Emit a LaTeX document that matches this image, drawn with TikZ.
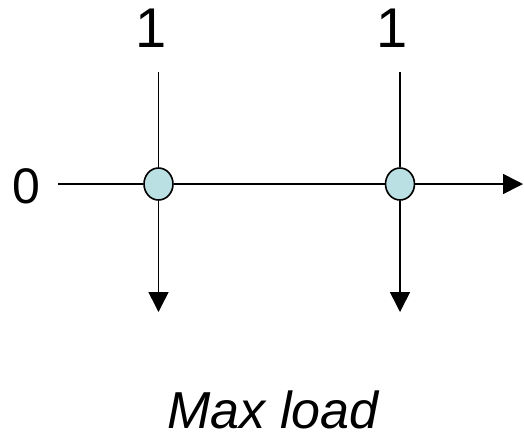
\documentclass[tikz,border=0pt]{standalone}
\usepackage{fontspec}
\setmainfont{Liberation Sans}
\usetikzlibrary{arrows.meta, shapes.geometric}
\definecolor{jointfill}{HTML}{BBE0E3}

\begin{document}
\begin{tikzpicture}[x=1pt, y=-1pt, line width=1.6pt,
    joint/.style={ellipse, draw, fill=jointfill, minimum width=29pt,
                  minimum height=32pt, inner sep=0pt},
    lab/.style={font=\fontsize{50}{60}\selectfont, inner sep=0pt, anchor=base},
    tip/.style={-{Triangle[width=20pt, length=20pt]}}]
  \useasboundingbox (0,0) rectangle (524,432);
  \node[lab] (zero) at (26,203) {0};
  \coordinate (src) at (58,184);
  \coordinate (out) at (523,184);
  \foreach \n/\x in {a/158.5, b/400}{
    \node[joint] (j\n) at (\x,184) {};
    \node[lab, font=\fontsize{56}{60}\selectfont] (one\n) at (\x-7.5,47) {1};
    \coordinate (top\n) at (\x,72);
    \coordinate (bot\n) at (\x,312);
  }
  \draw (src) -- (ja);
  \draw (ja) -- (jb);
  \draw[tip] (jb) -- (out);
  \draw (topa) -- (ja);
  \draw[tip] (ja) -- (bota);
  \draw (topb) -- (jb);
  \draw[tip] (jb) -- (botb);
  \node[lab, font=\fontsize{52}{60}\selectfont\itshape] (title) at (273,428) {Max load};
\end{tikzpicture}
\end{document}
